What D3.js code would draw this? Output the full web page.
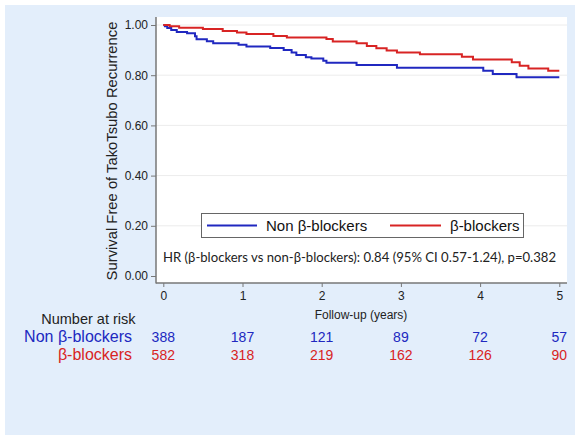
<!DOCTYPE html>
<html><head><meta charset="utf-8">
<script src="https://cdn.jsdelivr.net/npm/d3@7"></script>
<style>body{margin:0;background:#fff;}svg{display:block;}</style>
</head><body>
<svg id="c" width="575" height="435"></svg>
<script>
// ---- data ----
const years = [0, 1, 2, 3, 4, 5];
const yTicks = [0, 0.2, 0.4, 0.6, 0.8, 1.0];
const seriesNames = ["Non β-blockers", "β-blockers"];
const nonBBTime = [0, 0.02, 0.05, 0.10, 0.17, 0.30, 0.40, 0.42, 0.55, 0.63, 0.95, 1.05, 1.35, 1.52, 1.62, 1.68, 1.80, 1.87, 2.02, 2.06, 2.44, 2.95, 4.04, 4.16, 4.46, 5.0];
const nonBBSurv = [1.0, 0.995, 0.988, 0.980, 0.972, 0.967, 0.955, 0.943, 0.935, 0.927, 0.921, 0.914, 0.908, 0.900, 0.890, 0.880, 0.872, 0.867, 0.858, 0.850, 0.841, 0.830, 0.818, 0.805, 0.792, 0.792];
const bbTime = [0, 0.08, 0.20, 0.50, 0.75, 0.93, 1.05, 1.39, 1.56, 2.06, 2.14, 2.44, 2.57, 2.69, 2.82, 2.95, 3.24, 3.77, 3.91, 4.40, 4.50, 4.61, 4.86, 5.0];
const bbSurv = [1.0, 0.995, 0.989, 0.984, 0.976, 0.970, 0.964, 0.956, 0.950, 0.944, 0.934, 0.927, 0.916, 0.907, 0.898, 0.890, 0.883, 0.874, 0.863, 0.852, 0.838, 0.827, 0.818, 0.818];
const nonBBRisk = [388, 187, 121, 89, 72, 57];
const bbRisk = [582, 318, 219, 162, 126, 90];
const hrText = "HR (β-blockers vs non-β-blockers): 0.84 (95% CI 0.57-1.24), p=0.382";

const blue = "#2028c0", red = "#d82424";
const svg = d3.select("#c");

// background
svg.append("rect").attr("x", 5).attr("y", 5).attr("width", 570).attr("height", 430).attr("fill", "#e3eefb");
// plot area
const pl = 156, pr = 567, pt = 17, pb = 283;
svg.append("rect").attr("x", pl).attr("y", pt).attr("width", pr - pl).attr("height", pb - pt).attr("fill", "#fff");

const x = d3.scaleLinear().domain([0, 5]).range([163.3, 559.3]);
const y = d3.scaleLinear().domain([0, 1]).range([276, 25]);

// gridlines
svg.append("g").selectAll("line").data(yTicks.slice(1)).join("line")
  .attr("x1", pl).attr("x2", pr).attr("y1", d => y(d)).attr("y2", d => y(d))
  .attr("stroke", "#ececec").attr("stroke-width", 1);

// axes
const ya = svg.append("g").attr("transform", `translate(${pl},0)`)
  .call(d3.axisLeft(y).tickValues(yTicks).tickFormat(d3.format(".2f")).tickSize(5).tickPadding(3));
ya.select(".domain").remove();
ya.selectAll("line").attr("stroke", "#777");
ya.selectAll("text").attr("font-family", "Liberation Sans, Arial, sans-serif").attr("font-size", 12).attr("fill", "#222");

const xa = svg.append("g").attr("transform", `translate(0,${pb})`)
  .call(d3.axisBottom(x).tickValues(years).tickFormat(d3.format("d")).tickSize(4).tickPadding(4));
xa.select(".domain").remove();
xa.selectAll("line").attr("stroke", "#777");
xa.selectAll("text").attr("font-family", "Liberation Sans, Arial, sans-serif").attr("font-size", 12).attr("fill", "#222");

svg.append("line").attr("x1", pl).attr("x2", pl).attr("y1", pt).attr("y2", pb + 0.5).attr("stroke", "#777").attr("stroke-width", 1.5);
svg.append("line").attr("x1", pl).attr("x2", pr).attr("y1", pb).attr("y2", pb).attr("stroke", "#777").attr("stroke-width", 1.5);

// curves
const line = d3.line().x(d => x(d[0])).y(d => y(d[1])).curve(d3.curveStepAfter);
svg.append("path").datum(nonBBTime.map((t, i) => [t, nonBBSurv[i]]))
  .attr("d", line).attr("fill", "none").attr("stroke", blue).attr("stroke-width", 2);
svg.append("path").datum(bbTime.map((t, i) => [t, bbSurv[i]]))
  .attr("d", line).attr("fill", "none").attr("stroke", red).attr("stroke-width", 2);

// y label
svg.append("text").attr("transform", "translate(117,151) rotate(-90)")
  .attr("text-anchor", "middle").attr("font-family", "Liberation Sans, Arial, sans-serif")
  .attr("font-size", 14.8).attr("fill", "#222").text("Survival Free of TakoTsubo Recurrence");

// x label
svg.append("text").attr("x", 361).attr("y", 319).attr("text-anchor", "middle")
  .attr("font-family", "Liberation Sans, Arial, sans-serif").attr("font-size", 12).attr("fill", "#222")
  .text("Follow-up (years)");

// legend
svg.append("rect").attr("x", 201.5).attr("y", 213.5).attr("width", 322).attr("height", 24)
  .attr("fill", "#fff").attr("stroke", "#666").attr("stroke-width", 1);
const legX = [[207, 257, 266], [390, 441, 450]];
[blue, red].forEach((c, i) => {
  svg.append("line").attr("x1", legX[i][0]).attr("x2", legX[i][1]).attr("y1", 225.5).attr("y2", 225.5)
    .attr("stroke", c).attr("stroke-width", 2);
  svg.append("text").attr("x", legX[i][2]).attr("y", 231).attr("font-family", "Liberation Sans, Arial, sans-serif")
    .attr("font-size", 15).attr("fill", "#111").text(seriesNames[i]);
});

// HR text
svg.append("text").attr("x", 163).attr("y", 261.5).attr("font-family", "Lato, sans-serif")
  .attr("font-size", 13).attr("fill", "#222").attr("textLength", 393).attr("lengthAdjust", "spacingAndGlyphs")
  .text(hrText);

// number at risk
svg.append("text").attr("x", 135.5).attr("y", 323.5).attr("text-anchor", "end")
  .attr("font-family", "Liberation Sans, Arial, sans-serif").attr("font-size", 14.5).attr("fill", "#222")
  .text("Number at risk");
const rows = [[nonBBRisk, blue, 342], [bbRisk, red, 360]];
rows.forEach(([vals, c, yy], i) => {
  svg.append("text").attr("x", 132).attr("y", yy).attr("text-anchor", "end")
    .attr("font-family", "Liberation Sans, Arial, sans-serif").attr("font-size", 16).attr("fill", c)
    .text(seriesNames[i]);
  svg.append("g").selectAll("text").data(vals).join("text")
    .attr("x", (d, j) => x(years[j])).attr("y", yy).attr("text-anchor", "middle")
    .attr("font-family", "Liberation Sans, Arial, sans-serif").attr("font-size", 14).attr("fill", c)
    .text(d => d);
});
</script>
</body></html>
